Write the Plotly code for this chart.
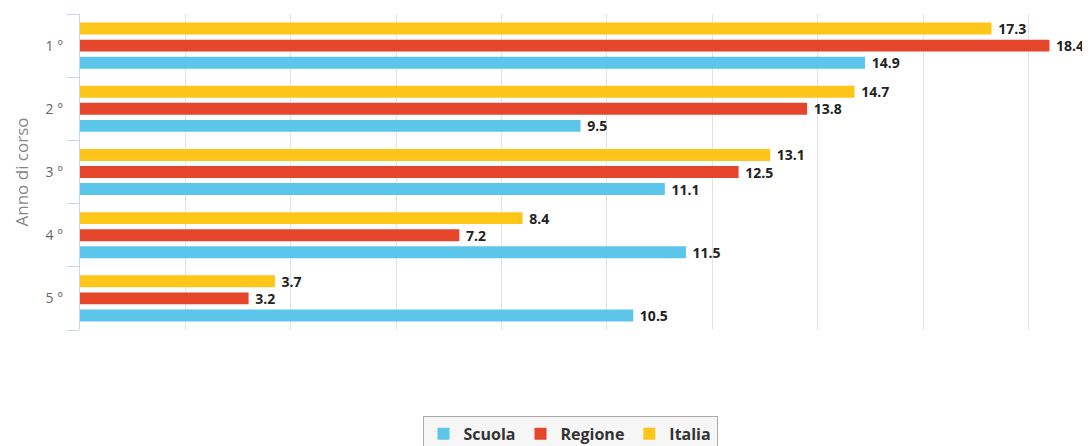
import plotly.graph_objects as go

anni = ["1 °", "2 °", "3 °", "4 °", "5 °"]
scuola = [14.9, 9.5, 11.1, 11.5, 10.5]
regione = [18.4, 13.8, 12.5, 7.2, 3.2]
italia = [17.3, 14.7, 13.1, 8.4, 3.7]

series = [
    ("Scuola", scuola, "#5bc5ea"),
    ("Regione", regione, "#e5452a"),
    ("Italia", italia, "#ffc61a"),
]

fig = go.Figure()
for name, vals, color in series:
    fig.add_trace(go.Bar(
        y=anni, x=vals, name=name, orientation="h",
        marker=dict(color=color, line_width=0),
        texttemplate=" %{x:.1f}", textposition="outside",
        textfont=dict(family="Open Sans", size=14, color="#222", weight="bold"),
        constraintext="none", cliponaxis=False,
        hoverinfo="x+name",
    ))

# page body adds an 8px margin, so the figure is a bit smaller than the window
fig.update_layout(
    width=1082, height=438,
    margin=dict(l=72, r=30, t=6, b=116, autoexpand=False),
    barmode="group", bargap=0.19, bargroupgap=0.3,
    paper_bgcolor="white", plot_bgcolor="white",
    font=dict(family="Open Sans", color="#666"),
    legend=dict(
        orientation="h", x=0.5, xanchor="center", y=-0.272, yanchor="top",
        bordercolor="#aaa", borderwidth=1, bgcolor="#f6f6f6",
        font=dict(size=16, color="#333", weight="bold"),
    ),
    xaxis=dict(
        range=[0, 18.6], dtick=2, showgrid=True, gridcolor="#e3e3e3",
        showticklabels=False, zeroline=False, showline=False,
    ),
    yaxis=dict(
        categoryorder="array", categoryarray=anni[::-1],
        showline=True, linecolor="#ccd6eb", linewidth=1,
        ticks="outside", tickson="boundaries", ticklen=12, tickcolor="#ccd6eb",
        tickfont=dict(size=14, color="#666"), ticklabelstandoff=13,
        showgrid=False, automargin=True,
        title=dict(text="Anno di corso", font=dict(size=17, color="#888"), standoff=12),
    ),
)

fig.write_html("out.html")
